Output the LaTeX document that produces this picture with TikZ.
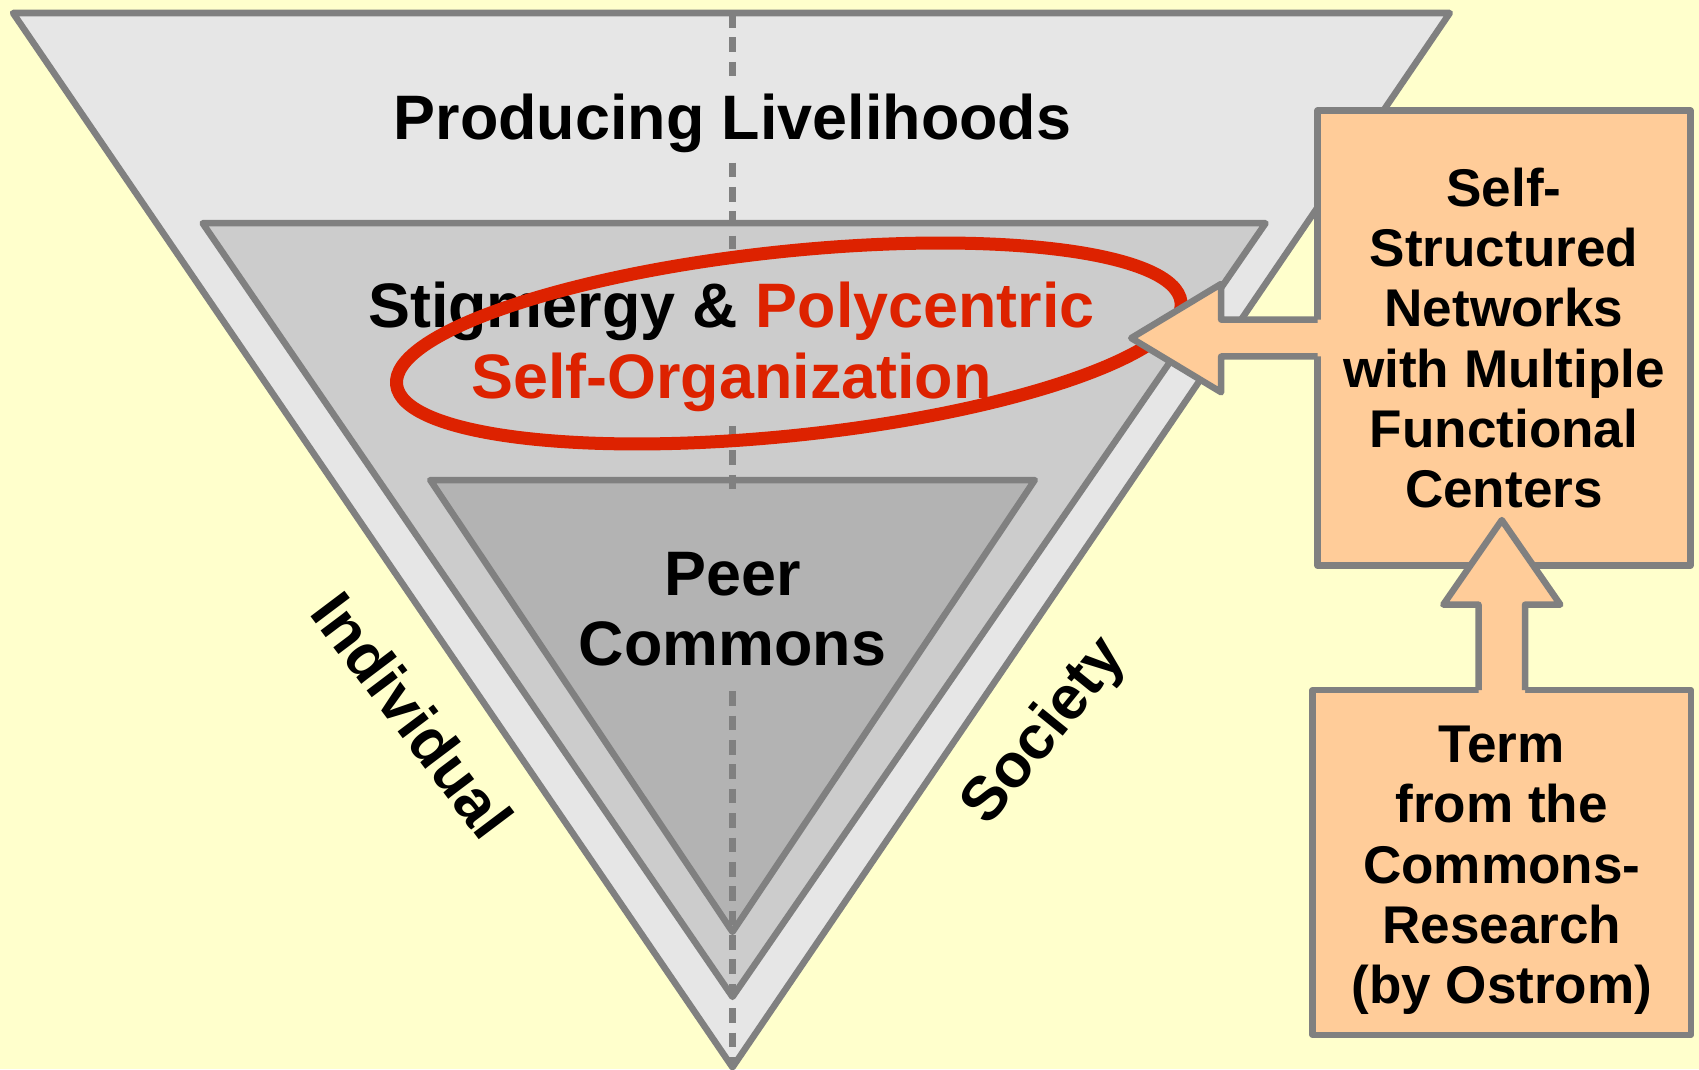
\documentclass[tikz,border=0pt]{standalone}
\usepackage{fontspec}
\setmainfont{Liberation Sans}
\usetikzlibrary{shapes.geometric,calc}
\definecolor{bgyellow}{HTML}{FFFFCC}
\definecolor{gA}{HTML}{E6E6E6}
\definecolor{gB}{HTML}{CCCCCC}
\definecolor{gC}{HTML}{B3B3B3}
\definecolor{edgegray}{HTML}{808080}
\definecolor{peach}{HTML}{FFCC99}
\definecolor{hired}{HTML}{DD2200}
\begin{document}
\begin{tikzpicture}[x=1pt,y=-1pt,
  layer/.style={fill=#1, draw=edgegray, line width=6pt, line join=round},
  bigtext/.style={font=\fontsize{58}{65}\selectfont\bfseries, inner sep=0pt, align=center},
  sidetext/.style={font=\fontsize{57}{64}\selectfont\bfseries, inner sep=0pt},
  peachbox/.style={draw=edgegray, fill=peach, line width=6pt, line join=round, inner sep=0pt, outer sep=0pt,
    font=\fontsize{49}{55.5}\selectfont\bfseries, align=center},
  midline/.style={draw=edgegray, line width=6pt, dash pattern=on 13.5pt off 9pt},
  arrowfill/.style={fill=peach},
  arrowedge/.style={draw=edgegray, line width=6pt, line join=round},
]
\useasboundingbox (0,0) rectangle (1568,987);
\fill[bgyellow] (0,0) rectangle (1568,987);

% funnel layers
\draw[layer=gA] (12,12) -- (1338,12) -- (676,985) -- cycle;
\draw[layer=gB] (187,206) -- (1168,206) -- (676,920) -- cycle;
\draw[layer=gC] (397,443) -- (955,443) -- (676,860) -- cycle;

% dashed centre line
\draw[midline] (676,12) -- (676,76);
\draw[midline] (676,150) -- (676,230);
\draw[midline] (676,393) -- (676,458);
\draw[midline] (676,638) -- (676,985);

% texts
\node[bigtext, anchor=base] (prod) at (676,129) {Producing Livelihoods};
\node[bigtext] (stig) at (675,320) {Stigmergy \& \textcolor{hired}{Polycentric}\\\textcolor{hired}{Self-Organization}};
\node[bigtext] (peer) at (676,562) {Peer\\Commons};
\node[sidetext, rotate=-53] (indiv) at (381,660) {Individual};
\node[sidetext, rotate=51] (soc) at (965,676) {Society};

% red ellipse
\node[ellipse, draw=hired, line width=12pt, minimum width=728pt, minimum height=170pt,
      inner sep=0pt, rotate=6] (ell) at (728,317) {};

% boxes
\node[peachbox, minimum width=344pt, minimum height=420pt] (box1) at (1388,312)
  {Self-\\Structured\\Networks\\with Multiple\\Functional\\Centers};
\node[peachbox, minimum width=349pt, minimum height=318pt] (box2) at (1386,796)
  {\rule{0pt}{48pt}Term\\from the\\Commons-\\Research\\(by Ostrom)};

% left block arrow: box1 -> ellipse
\coordinate (tipL) at (1044,312);
\fill[arrowfill] ($(box1.west)+(8,-17)$) -- ($(tipL)+(83,-17)$) -- ($(tipL)+(83,-50)$) -- (tipL)
  -- ($(tipL)+(83,50)$) -- ($(tipL)+(83,17)$) -- ($(box1.west)+(8,17)$) -- cycle;
\draw[arrowedge] ($(box1.west)+(0,-17)$) -- ($(tipL)+(83,-17)$) -- ($(tipL)+(83,-50)$) -- (tipL)
  -- ($(tipL)+(83,50)$) -- ($(tipL)+(83,17)$) -- ($(box1.west)+(0,17)$);

% up block arrow: box2 -> box1
\coordinate (tipU) at ($(box1.south)+(-2,-42)$);
\coordinate (baseU) at (tipU |- box2.north);
\fill[arrowfill] ($(baseU)+(-21.5,8)$) -- ($(tipU)+(-21.5,78)$) -- ($(tipU)+(-54,78)$) -- (tipU)
  -- ($(tipU)+(54,78)$) -- ($(tipU)+(21.5,78)$) -- ($(baseU)+(21.5,8)$) -- cycle;
\draw[arrowedge] ($(baseU)+(-21.5,0)$) -- ($(tipU)+(-21.5,78)$) -- ($(tipU)+(-54,78)$) -- (tipU)
  -- ($(tipU)+(54,78)$) -- ($(tipU)+(21.5,78)$) -- ($(baseU)+(21.5,0)$);
\end{tikzpicture}
\end{document}
